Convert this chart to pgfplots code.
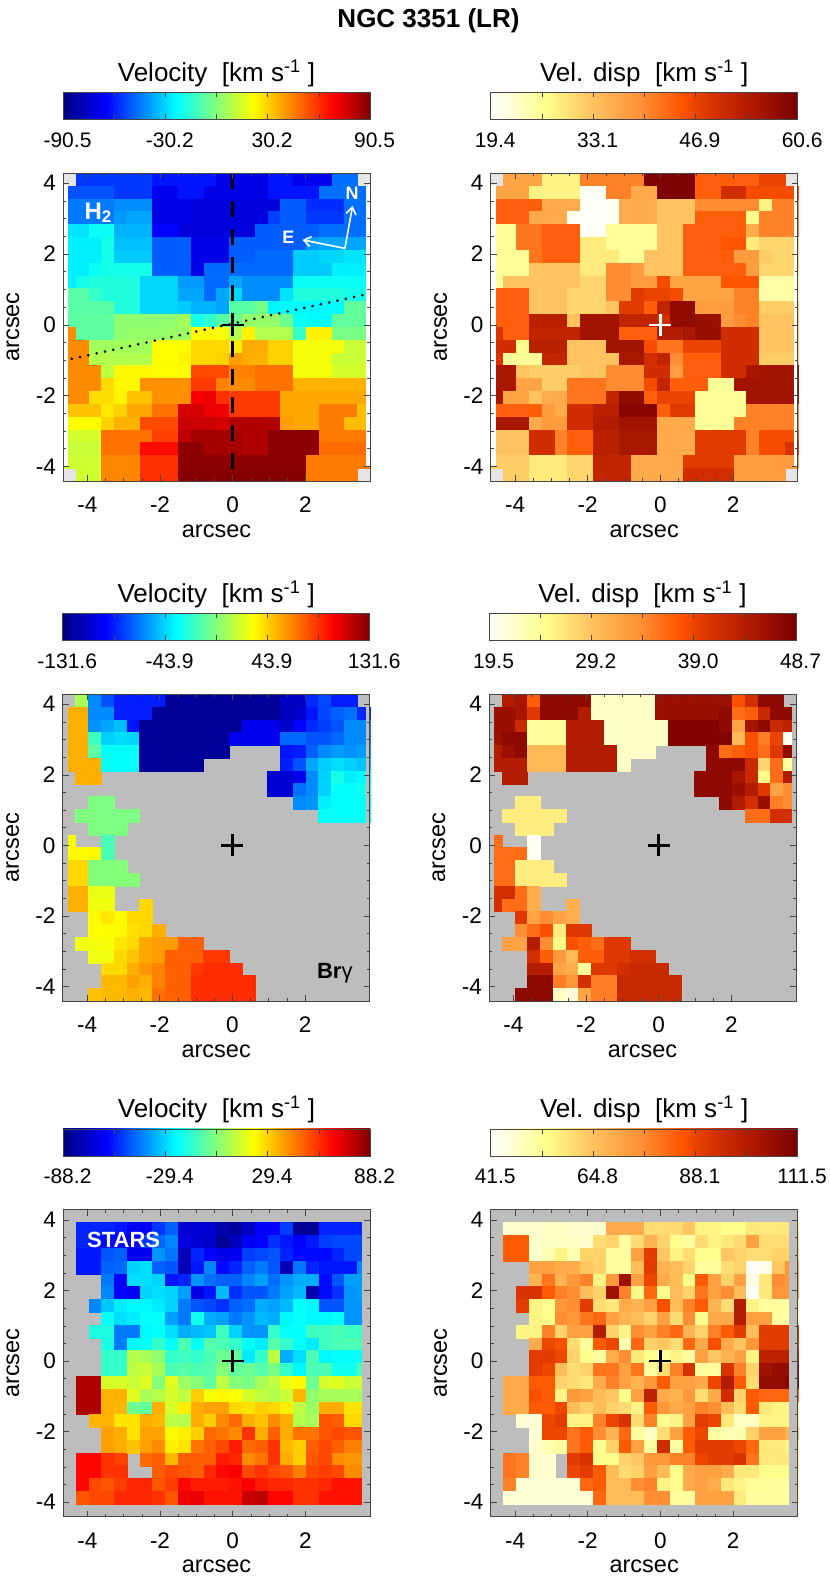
\documentclass[border=0pt]{standalone}
\usepackage{fontspec}
\setmainfont{Liberation Sans}
\usepackage{pgfplots}
\usepackage{pgfplotstable}
\pgfplotsset{compat=1.18}
\usetikzlibrary{arrows.meta}
\definecolor{maskgray}{RGB}{189,189,189}
\definecolor{cornergray}{RGB}{229,229,229}
\definecolor{framegray}{RGB}{70,70,70}

% colour bars, visible part of a tikz shading runs from 25bp to 75bp
\pgfdeclarehorizontalshading{vjetbar}{100bp}{rgb(0bp)=(0,0,.51); rgb(25bp)=(0,0,.51); rgb(32bp)=(0,0,1);
  rgb(43.5bp)=(0,1,1); rgb(56bp)=(1,1,0); rgb(69bp)=(1,0,0); rgb(75bp)=(.49,0,0); rgb(100bp)=(.49,0,0)}
\pgfdeclarehorizontalshading{vheatbar}{100bp}{rgb(0bp)=(1,1,1); rgb(25bp)=(1,1,1); rgb(34bp)=(1,1,.549);
  rgb(41.5bp)=(1,.765,.373); rgb(50bp)=(1,.549,.196); rgb(56bp)=(1,.333,0); rgb(61bp)=(.843,.196,0);
  rgb(69bp)=(.647,.078,0); rgb(75bp)=(.471,0,0); rgb(100bp)=(.471,0,0)}

% value maps, 24 x 24 cells, top row first
\pgfplotstableread[header=false]{
nan -56 -56 -56 -56 -56 -56 -62 -62 -62 -62 -62 -70 -70 -70 -70 -62 -62 -68 -68 -68 -47 -47 nan
-52 -52 -52 -52 -56 -56 -56 -68 -68 -62 -62 -70 -70 -70 -70 -70 -62 -62 -62 -62 -47 -47 -47 -47
-45 -45 -45 -45 -42 -42 -42 -70 -70 -70 -72 -72 -72 -72 -72 -72 -72 -50 -50 -58 -58 -58 -47 -47
-45 -45 -45 -45 -40 -38 -38 -70 -70 -70 -72 -72 -72 -72 -72 -72 -55 -50 -50 -56 -56 -56 -47 -47
-28 -28 -22 -22 -36 -36 -36 -65 -65 -72 -72 -72 -72 -72 -72 -50 -50 -50 -50 -50 -47 -47 -47 -47
-26 -26 -26 -20 -34 -34 -34 -50 -50 -50 -70 -70 -70 -50 -50 -50 -50 -50 -50 -40 -38 -38 -38 -38
-26 -26 -26 -20 -32 -32 -32 -50 -50 -50 -70 -70 -70 -50 -50 -48 -48 -48 -32 -32 -30 -30 -28 -28
-26 -26 -22 -20 -20 -20 -20 -50 -50 -50 -70 -48 -48 -48 -48 -48 -48 -48 -32 -32 -32 -26 -26 -26
-26 -20 -18 -18 -18 -18 -30 -30 -30 -40 -40 -48 -48 -38 -42 -42 -42 -42 -22 -22 -22 -22 -22 -22
-8 -8 -14 -18 -18 -18 -30 -30 -30 -38 -38 -48 -38 -30 -42 -42 -42 -28 -18 -18 -18 -18 -20 -20
-8 -8 -8 -8 -18 -18 -30 -30 -30 -32 -36 -36 -38 -8 -8 -3 -25 -24 -24 -24 -24 -24 -6 -6
-7 -7 -7 -7 2 2 2 2 2 6 -20 -15 -8 -4 3 3 3 -4 -22 -24 -24 -6 -6 -6
43 -7 -7 -7 2 3 3 3 4 4 22 23 20 8 24 8 8 8 -14 24 24 -2 -2 -2
43 43 5 5 5 5 5 22 22 22 29 29 29 25 37 37 30 30 20 20 20 20 12 12
43 43 8 8 8 8 8 22 22 24 29 29 30 40 37 36 30 30 20 20 20 12 12 12
43 43 43 10 23 23 23 22 22 22 55 55 55 45 45 48 48 48 20 20 20 14 14 14
43 43 43 28 23 23 42 42 42 42 58 58 45 43 43 48 48 48 36 36 36 36 36 36
43 43 28 28 24 33 33 42 42 42 70 72 60 58 58 58 58 38 38 38 38 38 38 38
33 33 33 26 30 38 38 48 48 76 76 72 72 58 58 58 58 38 38 38 46 46 46 34
22 22 22 30 36 36 55 55 55 78 78 78 76 82 82 82 82 40 38 38 46 46 34 34
14 14 14 48 48 48 48 57 57 80 84 84 84 84 82 82 88 88 88 88 46 46 46 46
12 12 12 48 48 48 67 67 67 88 88 84 84 84 82 82 88 88 88 88 49 49 49 49
13 13 13 44 44 44 60 60 60 88 88 88 88 88 88 88 88 88 88 46 46 46 46 46
nan 13 13 44 44 44 60 60 60 89 89 89 89 89 89 89 89 89 89 46 46 46 46 nan
}\velH

\pgfplotstableread[header=false]{
nan 37 37 37 28 28 28 41 41 41 41 41 60 60 60 60 44 44 44 44 44 47 47 nan
37 37 37 28 28 28 28 20 20 41 41 36 36 60 60 60 44 44 50 50 46 46 46 46
44 44 44 44 36 36 36 20 20 20 36 36 36 33 33 33 40 40 40 40 40 28 41 41
44 44 44 36 36 36 20 20 20 20 36 36 36 33 33 33 44 44 44 44 27 41 41 41
26 26 42 42 44 44 44 20 20 26 26 26 26 33 33 44 44 44 44 44 36 41 41 41
26 26 42 42 44 44 44 29 29 26 26 26 26 33 33 44 44 44 45 45 29 31 31 31
26 26 26 42 44 44 44 29 29 29 26 26 33 33 33 44 44 44 44 38 38 32 31 31
26 26 26 33 33 33 33 29 29 40 40 38 33 33 33 44 44 44 44 44 38 31 31 31
26 33 33 33 33 33 33 31 31 40 40 38 38 46 37 37 37 37 45 45 45 25 25 25
44 44 44 33 33 33 31 31 31 40 40 48 47 47 46 37 37 37 37 41 41 25 25 25
44 44 44 33 33 33 31 31 31 33 48 48 44 52 58 58 38 38 38 41 41 32 32 32
44 44 44 53 53 53 33 56 56 56 52 52 52 50 58 58 57 57 38 40 41 33 33 33
49 44 44 52 52 52 52 56 56 56 44 44 44 54 54 55 57 57 50 50 50 33 33 33
50 50 27 53 53 53 33 33 33 56 56 56 46 42 42 47 47 47 50 50 50 33 33 33
49 26 26 26 52 52 33 33 33 33 55 55 50 52 40 44 44 44 50 50 50 32 32 32
55 55 33 32 32 32 32 33 33 40 40 40 50 50 38 44 44 44 50 50 55 56 56 56
55 55 37 37 32 32 42 42 42 40 40 40 46 52 44 44 44 26 26 56 56 56 56 56
55 37 37 33 36 36 42 42 42 52 58 58 44 47 47 47 26 26 26 26 56 56 56 56
44 44 44 44 38 36 50 50 53 53 59 59 59 44 48 48 26 26 26 26 41 41 41 41
55 55 55 36 38 38 50 50 54 54 56 56 56 36 36 36 26 26 26 41 41 41 41 41
33 33 33 50 50 41 44 44 53 53 55 55 55 36 36 36 48 48 48 48 41 46 46 46
33 33 33 50 50 41 44 44 53 53 55 55 55 36 36 36 48 48 48 48 41 46 46 49
32 32 32 29 29 29 31 31 52 52 52 36 36 36 36 48 48 48 48 38 38 38 38 38
nan 32 32 29 29 29 31 31 52 52 52 36 36 36 36 50 50 50 50 38 38 38 38 nan
}\dispH

\pgfplotstableread[header=false]{
nan 10 -62 -76 -88 -88 -88 -88 -125 -125 -125 -125 -125 -125 -125 -125 -125 -112 -112 -85 -78 -88 -88 nan
53 53 -62 -62 -88 -88 -88 -125 -125 -125 -125 -125 -125 -125 -125 -125 -125 -115 -110 -90 -78 -72 -68 -85
53 53 -60 -55 -50 -90 -125 -125 -125 -125 -125 -125 -125 -125 -100 -100 -100 -110 -95 -85 -80 -75 -62 -62
53 53 -18 -45 -42 -44 -125 -125 -125 -125 -125 -125 -125 -99 -99 -99 -99 -70 -70 -75 -75 -70 -62 -62
53 53 -10 -33 -33 -33 -125 -125 -125 -125 -125 -125 -125 nan nan nan nan -90 -88 -72 -62 -58 -60 -58
53 53 53 -33 -33 -33 -125 -125 -125 -125 -125 nan nan nan nan nan nan -88 -75 -55 -46 -42 -45 -48
nan 53 53 nan nan nan nan nan nan nan nan nan nan nan nan nan -108 -108 -100 -62 -45 -28 -38 -35
nan nan nan nan nan nan nan nan nan nan nan nan nan nan nan nan -108 -108 -68 -62 -45 -33 -33 -30
nan nan -2 -2 nan nan nan nan nan nan nan nan nan nan nan nan nan nan -62 -60 -38 -33 -33 -33
nan -2 -2 -2 -2 -2 nan nan nan nan nan nan nan nan nan nan nan nan nan nan -33 -33 -33 -33
nan nan -2 -2 -2 nan nan nan nan nan nan nan nan nan nan nan nan nan nan nan nan nan nan nan
33 nan nan -15 nan nan nan nan nan nan nan nan nan nan nan nan nan nan nan nan nan nan nan nan
33 33 33 -15 nan nan nan nan nan nan nan nan nan nan nan nan nan nan nan nan nan nan nan nan
42 42 0 0 0 nan nan nan nan nan nan nan nan nan nan nan nan nan nan nan nan nan nan nan
42 42 0 0 0 0 nan nan nan nan nan nan nan nan nan nan nan nan nan nan nan nan nan nan
53 53 26 26 nan nan nan nan nan nan nan nan nan nan nan nan nan nan nan nan nan nan nan nan
53 53 28 28 nan nan 42 nan nan nan nan nan nan nan nan nan nan nan nan nan nan nan nan nan
nan nan 33 38 33 42 42 nan nan nan nan nan nan nan nan nan nan nan nan nan nan nan nan nan
nan nan 32 32 33 40 42 53 nan nan nan nan nan nan nan nan nan nan nan nan nan nan nan nan
nan 28 28 30 38 42 55 58 58 74 74 nan nan nan nan nan nan nan nan nan nan nan nan nan
nan nan 28 28 42 47 55 58 74 74 74 85 85 nan nan nan nan nan nan nan nan nan nan nan
nan nan nan 42 42 53 60 65 74 74 85 88 88 88 nan nan nan nan nan nan nan nan nan nan
nan nan nan 50 50 57 53 65 74 74 88 88 88 88 88 nan nan nan nan nan nan nan nan nan
nan nan 48 50 50 53 50 70 74 74 88 88 88 88 88 nan nan nan nan nan nan nan nan nan
}\velB

\pgfplotstableread[header=false]{
nan 44 45 37 47 47 47 47 22 22 22 22 22 46 46 46 46 46 46 38 41 47 47 nan
46 46 45 40 47 47 47 44 22 22 22 22 22 46 46 46 46 46 47 36 37 42 47 47
46 46 42 24 24 24 44 44 44 22 22 22 22 22 48 48 48 48 47 32 45 47 42 43
46 47 47 24 24 24 44 44 44 22 22 22 22 22 48 48 48 48 48 30 38 35 39 20
44 46 47 30 30 30 44 44 44 44 22 22 22 nan nan nan nan 47 36 37 38 36 40 47
44 44 44 30 30 30 44 44 44 44 22 nan nan nan nan nan nan 47 47 47 42 28 36 24
nan 44 44 nan nan nan nan nan nan nan nan nan nan nan nan nan 47 47 47 45 42 25 36 44
nan nan nan nan nan nan nan nan nan nan nan nan nan nan nan nan 47 47 47 46 44 40 32 34
nan nan 26 26 nan nan nan nan nan nan nan nan nan nan nan nan nan nan 47 44 41 46 35 34
nan 26 26 26 26 26 nan nan nan nan nan nan nan nan nan nan nan nan nan nan 36 36 41 41
nan nan 26 26 26 nan nan nan nan nan nan nan nan nan nan nan nan nan nan nan nan nan nan nan
36 nan nan 20 nan nan nan nan nan nan nan nan nan nan nan nan nan nan nan nan nan nan nan nan
36 36 36 20 nan nan nan nan nan nan nan nan nan nan nan nan nan nan nan nan nan nan nan nan
36 36 26 26 26 nan nan nan nan nan nan nan nan nan nan nan nan nan nan nan nan nan nan nan
36 36 26 26 26 26 nan nan nan nan nan nan nan nan nan nan nan nan nan nan nan nan nan nan
41 41 36 31 nan nan nan nan nan nan nan nan nan nan nan nan nan nan nan nan nan nan nan nan
41 36 36 31 nan nan 31 nan nan nan nan nan nan nan nan nan nan nan nan nan nan nan nan nan
nan nan 40 32 34 32 31 nan nan nan nan nan nan nan nan nan nan nan nan nan nan nan nan nan
nan nan 34 36 38 26 40 40 nan nan nan nan nan nan nan nan nan nan nan nan nan nan nan nan
nan 32 32 44 34 25 38 37 36 40 40 nan nan nan nan nan nan nan nan nan nan nan nan nan
nan nan nan 41 37 33 30 37 37 40 40 41 41 nan nan nan nan nan nan nan nan nan nan nan
nan nan nan 44 44 32 31 24 40 40 41 42 42 42 nan nan nan nan nan nan nan nan nan nan
nan nan nan 47 47 35 33 41 35 35 42 42 42 42 42 nan nan nan nan nan nan nan nan nan
nan nan 47 47 47 22 21 32 35 35 42 42 42 42 42 nan nan nan nan nan nan nan nan nan
}\dispB

\pgfplotstableread[header=false]{
nan nan nan nan nan nan nan nan nan nan nan nan nan nan nan nan nan nan nan nan nan nan nan nan
nan -58 -58 -58 -60 -66 -66 -55 -48 -72 -72 -72 -80 -82 -75 -64 -64 -54 -84 -84 -58 -58 -58 -58
nan -58 -60 -62 -62 -66 -55 -47 -42 -70 -72 -74 -84 -76 -66 -64 -56 -60 -64 -60 -54 -52 -52 -52
nan -60 -60 -50 -48 -66 -66 -40 -45 -78 -58 -64 -68 -66 -54 -52 -50 -58 -62 -62 -62 -58 -52 -52
nan -60 -60 -48 -47 -30 -28 -48 -50 -78 -60 -42 -62 -58 -48 -44 -50 -78 -45 -58 -60 -60 -60 -42
nan nan nan -44 -64 -28 -28 -30 -60 -58 -40 -46 -48 -48 -42 -38 -46 -40 -36 -36 -62 -50 -38 -38
nan nan nan -42 -64 -66 -30 -28 -30 -38 -68 -60 -34 -56 -50 -50 -44 -38 -34 -80 -62 -56 -40 -38
nan nan -42 -32 -26 -24 -24 -26 -30 -44 -50 -52 -56 -48 -46 -36 -38 -34 -22 -24 -50 -50 -40 -40
nan nan nan -22 -28 -26 -22 -22 -38 -44 -20 -36 -38 -44 -40 -34 -36 -24 -22 -24 -24 -22 -40 -40
nan nan -18 -18 -44 -44 -24 -22 -28 -36 -34 -32 -12 -30 -40 -40 -14 -22 -22 -12 -12 -10 -12 -12
nan nan nan -18 -44 -24 -22 -14 -22 -10 -22 -8 -10 -14 -22 -26 -8 -14 -22 -26 -12 -10 -10 -10
nan nan nan -14 -14 8 6 2 -14 -12 -14 -10 -4 -6 -26 -14 10 -36 -28 -10 -24 -22 -22 -22
nan nan nan -14 -14 10 12 6 -10 -8 -10 -8 0 -6 -4 -8 -2 -14 -24 -10 -10 -20 -20 -10
nan 80 80 14 14 12 16 0 16 4 0 -6 10 0 -2 6 10 18 22 -4 14 16 12 12
nan 80 80 35 35 16 6 8 14 10 30 20 22 20 14 10 8 12 34 2 6 6 6 6
nan 80 80 35 34 -4 -6 36 14 24 36 38 38 28 26 30 28 24 10 4 36 36 26 26
nan nan 35 35 26 26 36 34 10 8 36 30 42 48 36 32 42 36 8 6 52 50 28 28
nan nan nan 38 36 26 38 38 22 24 30 48 46 42 58 36 50 36 46 46 52 54 52 52
nan nan nan 38 36 32 38 42 24 26 46 50 54 62 48 50 58 34 30 50 54 50 44 44
nan 66 66 58 55 nan 48 50 34 50 50 50 62 60 42 46 58 36 30 52 54 42 40 40
nan 66 66 58 58 nan nan 50 54 52 50 60 66 68 54 58 54 52 44 54 56 54 42 42
nan 66 54 52 56 60 60 52 56 66 62 62 62 64 68 62 60 60 58 58 60 64 64 64
nan 52 54 54 60 60 60 58 52 70 70 64 64 64 76 78 66 66 58 58 64 64 64 64
nan nan nan nan nan nan nan nan nan nan nan nan nan nan nan nan nan nan nan nan nan nan nan nan
}\velS

\pgfplotstableread[header=false]{
nan nan nan nan nan nan nan nan nan nan nan nan nan nan nan nan nan nan nan nan nan nan nan nan
nan 47 47 47 48 48 47 47 47 70 70 70 60 60 60 64 56 56 54 54 58 58 58 58
nan 84 84 47 48 48 48 47 60 62 52 60 68 62 54 52 60 56 58 60 72 60 60 60
nan 84 84 47 50 56 50 62 62 52 52 72 90 64 56 60 54 54 64 62 60 60 62 62
nan nan nan 72 72 70 70 64 62 52 52 66 90 68 66 62 52 52 60 62 42 44 64 74
nan nan nan 68 80 68 74 78 56 74 104 72 88 70 66 54 84 72 62 72 44 58 76 74
nan nan 92 92 84 78 76 66 62 104 78 55 82 54 66 62 80 72 76 66 42 58 74 74
nan nan 90 56 54 74 76 90 60 58 70 68 72 86 66 78 84 68 60 100 56 52 52 52
nan nan nan 56 54 76 74 80 82 72 68 66 62 72 60 76 54 70 70 100 72 72 52 52
nan nan 56 56 78 62 72 72 100 62 56 76 72 78 82 68 62 78 84 90 66 90 90 90
nan nan nan 70 88 86 60 52 84 88 50 82 62 64 60 82 70 86 70 64 74 90 90 90
nan nan nan 90 90 88 62 54 52 70 76 58 54 52 56 52 72 64 68 72 56 98 98 98
nan nan nan 90 88 66 60 62 80 80 72 80 52 60 78 92 52 52 92 78 62 104 106 106
nan 70 70 84 84 62 60 58 70 78 72 68 74 84 72 72 70 88 100 84 60 106 106 108
nan 70 70 86 84 56 74 72 66 64 54 72 98 70 68 74 60 70 94 62 84 82 82 82
nan 70 70 84 84 88 66 62 66 62 60 56 84 74 70 72 78 76 66 60 84 58 56 56
nan nan 46 46 88 90 56 56 78 88 92 60 78 54 56 72 90 88 58 48 48 56 56 56
nan nan nan 46 88 88 80 84 76 68 82 52 48 60 72 84 88 52 50 50 62 72 72 68
nan nan nan 47 50 52 80 84 54 62 84 72 52 94 52 84 90 90 90 88 82 58 58 56
nan 80 78 47 47 nan 90 92 54 54 62 64 74 74 78 78 88 90 90 92 80 58 58 58
nan 80 78 47 47 nan 88 90 84 66 60 62 72 66 54 70 72 72 70 58 58 54 54 54
nan 78 46 46 46 46 46 82 84 66 66 76 78 56 54 70 72 70 58 56 53 52 52 52
nan 46 46 46 46 46 46 46 82 66 66 66 76 76 52 52 72 72 72 58 52 52 52 52
nan nan nan nan nan nan nan nan nan nan nan nan nan nan nan nan nan nan nan nan nan nan nan nan
}\dispS

\pgfplotsset{
  colormap={vjet}{rgb255(0cm)=(0,0,130); rgb255(14cm)=(0,0,255); rgb255(37cm)=(0,255,255);
    rgb255(62cm)=(255,255,0); rgb255(88cm)=(255,0,0); rgb255(100cm)=(125,0,0)},
  colormap={vheat}{rgb255(0cm)=(255,255,255); rgb255(18cm)=(255,255,140); rgb255(33cm)=(255,195,95);
    rgb255(50cm)=(255,140,50); rgb255(62cm)=(255,85,0); rgb255(72cm)=(215,50,0);
    rgb255(88cm)=(165,20,0); rgb255(100cm)=(120,0,0)},
  limits/.style={scale only axis, width=307pt, height=307pt,
    xmin=-4.67, xmax=3.78, ymin=-4.41, ymax=4.29},
  panel/.style={limits, axis on top,
    axis line style={draw=framegray, line width=0.8pt},
    tick align=inside, xtick pos=both, ytick pos=both,
    xtick={-4,-2,0,2}, xticklabels={-4,-2,0,2},
    ytick={-4,-2,0,2,4}, yticklabels={-4,-2,0,2,4},
    minor x tick num=3, minor y tick num=3,
    major tick length=6pt, minor tick length=3pt,
    tick style={draw=framegray, line width=0.6pt},
    xticklabel pos=lower, yticklabel pos=left,
    xticklabel style={anchor=base, yshift=-31.5pt, font=\fontsize{22.5}{24}\selectfont},
    yticklabel style={anchor=east, inner sep=0pt, xshift=-7pt, font=\fontsize{22.5}{24}\selectfont},
    xlabel={arcsec}, ylabel={arcsec},
    xlabel style={at={(axis description cs:0.5,-0.163)}, anchor=center, font=\fontsize{23.5}{26}\selectfont},
    ylabel style={at={(axis description cs:-0.163,0.5)}, anchor=center, font=\fontsize{23.5}{26}\selectfont},
  },
}

% the map itself: left, bottom, height, background, colormap, min, max, table
\newcommand\mapcells[8]{%
  \fill[#4] (#1pt,#2pt) rectangle ++(307pt,#3pt);
  \begin{axis}[at={(#1pt,#2pt)}, anchor=south west, limits, height=#3pt, hide axis,
    colormap name=#5, point meta min=#6, point meta max=#7]
  \pgfplotsinvokeforeach{0,...,23}{
    \addplot[scatter, only marks, mark=square*, mark size=6.42pt,
      scatter/use mapped color={draw=mapped color, fill=mapped color},
      mark options={line width=0.1pt}, point meta=explicit]
      table[x expr={-4.67+(##1+0.5)*0.352083},
            y expr={\thisrowno{##1}*0+4.29-(\coordindex+0.5)*0.3625}, meta index=##1] {#8};
  }
  \end{axis}%
}
\newcommand\crossmark[1]{%
  \addplot[only marks, mark=+, mark size=11pt, line width=2.6pt, #1, mark options={line width=2.6pt, #1}] coordinates {(0,0)};
}
\newcommand\sidestrips[3]{%
  \addplot[fill=#1, draw=none] coordinates {(-4.67,#2) (-4.53,#2) (-4.53,#3) (-4.67,#3)} --cycle;
  \addplot[fill=#1, draw=none] coordinates {(3.67,#2) (3.78,#2) (3.78,#3) (3.67,#3)} --cycle;
}
\newcommand\maskedge{%
  \addplot[fill=maskgray, draw=none] coordinates {(3.55,-4.41) (3.78,-4.41) (3.78,4.29) (3.55,4.29)} --cycle;
}
% colour bar: left, bottom, shading, min, max, tick positions, tick labels, title
\newcommand\cbar[8]{%
  \begin{axis}[at={(#1pt,#2pt)}, anchor=south west, scale only axis, width=307pt, height=27pt,
    xmin=#4, xmax=#5, ymin=0, ymax=1, ytick=\empty, axis on top,
    axis line style={draw=framegray, line width=0.7pt},
    tick align=inside, xtick pos=both, major tick length=5pt,
    tick style={draw=framegray, line width=0.6pt},
    xtick={#6}, xticklabels={#7}, xticklabel pos=lower,
    xticklabel style={anchor=base, yshift=-28pt, xshift=4.5pt, font=\fontsize{21}{24}\selectfont},
    title={#8},
    title style={anchor=base, at={(0.5,1)}, yshift=5pt, font=\fontsize{26}{30}\selectfont}]
  \shade[shading=#3] (axis cs:#4,0) rectangle (axis cs:#5,1);
  \end{axis}%
}

\begin{document}
\begin{tikzpicture}
\path[use as bounding box] (0,0) rectangle (830pt,1580pt);
\node[font=\fontsize{26}{30}\selectfont\bfseries] at (428.5pt,1559pt) {NGC 3351 (LR)};

\cbar{63}{1460.6}{vjetbar}{-90.5}{90.5}{-90.5,-60.33,-30.17,0,30.17,60.33,90.5}{-90.5,,-30.2,,30.2,,90.5}{Velocity~~[km s\textsuperscript{-1} ]}
\cbar{490.7}{1460.6}{vheatbar}{19.4}{60.6}{19.4,26.27,33.13,40,46.87,53.73,60.6}{19.4,,33.1,,46.9,,60.6}{Vel. disp~~[km s\textsuperscript{-1} ]}
\cbar{62.7}{939.7}{vjetbar}{-131.6}{131.6}{-131.6,-87.73,-43.87,0,43.87,87.73,131.6}{-131.6,,-43.9,,43.9,,131.6}{Velocity~~[km s\textsuperscript{-1} ]}
\cbar{489}{939.7}{vheatbar}{19.5}{48.7}{19.5,24.37,29.23,34.1,38.97,43.83,48.7}{19.5,,29.2,,39.0,,48.7}{Vel. disp~~[km s\textsuperscript{-1} ]}
\cbar{63}{424}{vjetbar}{-88.2}{88.2}{-88.2,-58.8,-29.4,0,29.4,58.8,88.2}{-88.2,,-29.4,,29.4,,88.2}{Velocity~~[km s\textsuperscript{-1} ]}
\cbar{490.7}{424}{vheatbar}{41.5}{111.5}{41.5,53.17,64.83,76.5,88.17,99.83,111.5}{41.5,,64.8,,88.1,,111.5}{Vel. disp~~[km s\textsuperscript{-1} ]}

% H2 velocity
\mapcells{63}{1099}{308}{cornergray}{vjet}{-90.5}{90.5}{\velH}
\begin{axis}[at={(63pt,1099pt)}, anchor=south west, panel, height=308pt]
\sidestrips{white}{-4.02}{3.95}
\addplot[black, line width=2.4pt, dash pattern=on 16pt off 12pt] coordinates {(0,4.29) (0,-4.41)};
\addplot[black, line width=2.8pt, line cap=round, dash pattern=on 0.1pt off 8.4pt] coordinates {(-4.43,-0.96) (3.62,0.85)};
\crossmark{black}
\draw[white, line width=1.6pt, -{Straight Barb[length=7pt,width=10pt]}] (axis cs:3.09,2.16) -- (axis cs:3.30,3.36);
\draw[white, line width=1.6pt, -{Straight Barb[length=7pt,width=10pt]}] (axis cs:3.09,2.16) -- (axis cs:1.92,2.40);
\node[white, font=\fontsize{18}{20}\selectfont\bfseries] at (axis cs:3.285,3.73) {N};
\node[white, font=\fontsize{18}{20}\selectfont\bfseries] at (axis cs:1.53,2.48) {E};
\node[white, font=\fontsize{24}{26}\selectfont\bfseries] at (axis cs:-3.7,3.17) {H\textsubscript{2}};
\end{axis}

% H2 dispersion
\mapcells{490.7}{1099}{308}{cornergray}{vheat}{19.4}{60.6}{\dispH}
\begin{axis}[at={(490.7pt,1099pt)}, anchor=south west, panel, height=308pt]
\sidestrips{white}{-4.02}{3.95}
\crossmark{white}
\end{axis}

% Br gamma velocity
\mapcells{62.7}{579}{307}{maskgray}{vjet}{-131.6}{131.6}{\velB}
\begin{axis}[at={(62.7pt,579pt)}, anchor=south west, panel]
\sidestrips{maskgray}{-4.41}{4.29}
\crossmark{black}
\node[font=\fontsize{22}{24}\selectfont] at (axis cs:2.82,-3.63) {\textbf{Br}γ};
\end{axis}

% Br gamma dispersion
\mapcells{489}{579}{307}{maskgray}{vheat}{19.5}{48.7}{\dispB}
\begin{axis}[at={(489pt,579pt)}, anchor=south west, panel]
\sidestrips{maskgray}{-4.41}{4.29}
\crossmark{black}
\end{axis}

% stellar velocity
\mapcells{63}{63.3}{307}{maskgray}{vjet}{-88.2}{88.2}{\velS}
\begin{axis}[at={(63pt,63.3pt)}, anchor=south west, panel]
\maskedge
\crossmark{black}
\node[white, font=\fontsize{22}{24}\selectfont\bfseries] at (axis cs:-3.0,3.44) {STARS};
\end{axis}

% stellar dispersion
\mapcells{490.7}{63.3}{307}{maskgray}{vheat}{41.5}{111.5}{\dispS}
\begin{axis}[at={(490.7pt,63.3pt)}, anchor=south west, panel]
\maskedge
\crossmark{black}
\end{axis}
\end{tikzpicture}
\end{document}
